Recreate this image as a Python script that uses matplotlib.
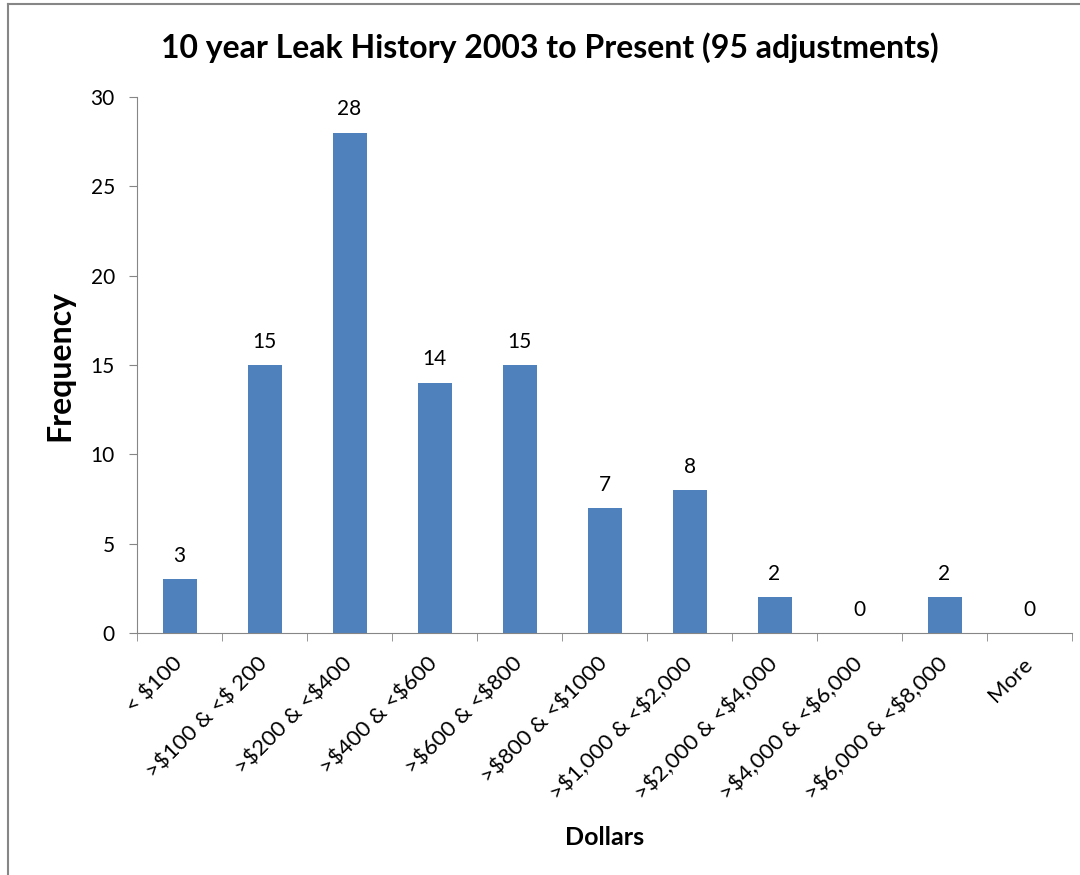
import matplotlib
matplotlib.use("Agg")
import matplotlib.pyplot as plt
import matplotlib.transforms as mtransforms
from matplotlib.lines import Line2D
import numpy as np

categories = ["< \\$100", ">\\$100 & <\\$ 200", ">\\$200 & <\\$400", ">\\$400 & <\\$600", ">\\$600 & <\\$800",
              ">\\$800 & <\\$1000", ">\\$1,000 & <\\$2,000", ">\\$2,000 & <\\$4,000", ">\\$4,000 & <\\$6,000",
              ">\\$6,000 & <\\$8,000", "More"]
frequency = [3, 15, 28, 14, 15, 7, 8, 2, 0, 2, 0]
yticks = [0, 5, 10, 15, 20, 25, 30]

plt.rcParams['font.family'] = ['Lato', 'DejaVu Sans']

fig = plt.figure(figsize=(10.8, 8.75), dpi=100)
ax = fig.add_axes([0.1269, 0.2766, 0.8657, 0.6125])

x = np.arange(len(categories))
bar_color = '#4F81BD'
ax.bar(x, frequency, width=0.4, color=bar_color, zorder=2)
for xi, v in zip(x, frequency):
    ax.text(xi, v + 0.75, str(v), ha='center', va='bottom', fontsize=15, color='#000000')

ax.set_xlim(-0.5, len(categories) - 0.5)
ax.set_ylim(0, 30)
ax.set_yticks(yticks)
ax.set_yticklabels([str(t) for t in yticks], fontsize=15)

ax.set_xticks(x)
ax.set_xticklabels(categories, rotation=45, ha='right', rotation_mode='anchor', fontsize=16)
ax.tick_params(axis='x', which='major', length=0, pad=15)
offset = mtransforms.ScaledTranslation(-7/100, 0, fig.dpi_scale_trans)
for lbl in ax.get_xticklabels():
    lbl.set_transform(lbl.get_transform() + offset)
ax.set_xticks(np.arange(-0.5, len(categories) + 0.5, 1), minor=True)
ax.tick_params(axis='x', which='minor', length=6, color='#868686', direction='out')
ax.tick_params(axis='y', length=6, color='#868686', direction='out', pad=10)

for side in ['top', 'right']:
    ax.spines[side].set_visible(False)
for side in ['left', 'bottom']:
    ax.spines[side].set_color('#868686')

ax.set_ylabel('Frequency', fontsize=23, fontweight='bold', labelpad=12)
ax.set_xlabel('Dollars', fontsize=18, fontweight='bold', labelpad=16)
fig.suptitle('10 year Leak History 2003 to Present (95 adjustments)', fontsize=23,
             fontweight='bold', x=0.509, y=0.963)

# outer chart border (left and top edges visible)
fig.add_artist(Line2D([8/1080, 8/1080], [0, 1 - 4/875], transform=fig.transFigure,
                      color='#868686', lw=1.5))
fig.add_artist(Line2D([8/1080, 1], [1 - 4/875, 1 - 4/875], transform=fig.transFigure,
                      color='#868686', lw=1.5))

fig.savefig('out.png', dpi=100)
